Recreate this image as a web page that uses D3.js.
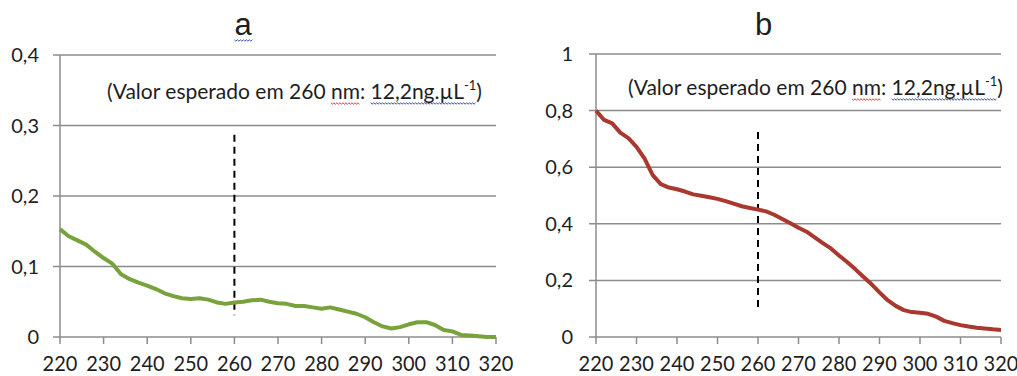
<!DOCTYPE html>
<html>
<head>
<meta charset="utf-8">
<script src="https://cdn.jsdelivr.net/npm/d3@7"></script>
<style>
  body { margin: 0; background: #fff; }
  svg text { font-family: Lato, "Open Sans", sans-serif; fill: #1e1e1e; }
</style>
</head>
<body>
<div id="chart"></div>
<script>
// wavelength grid (nm) shared by both panels
const wavelengths = d3.range(220, 321, 2);

// panel a: absorbance
const absA = [0.153, 0.143, 0.137, 0.131, 0.121, 0.112, 0.104, 0.089, 0.082, 0.077,
    0.073, 0.068, 0.062, 0.058, 0.055, 0.054, 0.055, 0.053, 0.049, 0.047,
    0.049, 0.050, 0.052, 0.053, 0.050, 0.048, 0.047, 0.044, 0.044, 0.042,
    0.040, 0.042, 0.039, 0.036, 0.033, 0.028, 0.021, 0.015, 0.012, 0.014,
    0.018, 0.021, 0.021, 0.017, 0.010, 0.008, 0.003, 0.002, 0.001, 0.000, 0.000];

// panel b: absorbance
const absB = [0.800, 0.767, 0.755, 0.722, 0.703, 0.672, 0.630, 0.572, 0.540, 0.528,
    0.522, 0.514, 0.504, 0.499, 0.494, 0.488, 0.480, 0.471, 0.462, 0.456,
    0.450, 0.444, 0.432, 0.417, 0.402, 0.386, 0.372, 0.352, 0.332, 0.313,
    0.288, 0.265, 0.240, 0.213, 0.187, 0.158, 0.130, 0.110, 0.095, 0.088,
    0.086, 0.082, 0.072, 0.057, 0.049, 0.042, 0.037, 0.033, 0.030, 0.027, 0.025];

const xTicks = d3.range(220, 321, 10);
const yTicksA = [0, 0.1, 0.2, 0.3, 0.4];
const yTicksB = [0, 0.2, 0.4, 0.6, 0.8, 1];
const titles = ["a", "b"];
const note = ["(Valor esperado em 260 ", "nm", ": ", "12,2ng.µL", "-1", ")"];
// dashed marker at 260 nm, [from, to] in absorbance
const markA = [0.287, 0.031];
const markB = [0.724, 0.102];

const W = 1017, H = 376;
const svg = d3.select("#chart").append("svg").attr("width", W).attr("height", H);

const fmt = v => (v === 0 || v === 1) ? String(v) : d3.format(".1f")(v).replace(".", ",");

const panels = [
    { left: 60, right: 496, top: 55, bottom: 337, yMax: 0.4, yTicks: yTicksA, vals: absA,
      color: "#78a23b", title: titles[0], mark: markA, noteX: 107, noteY: 99, labGap: 21 },
    { left: 596, right: 1001, top: 54, bottom: 337, yMax: 1, yTicks: yTicksB, vals: absB,
      color: "#a9382f", title: titles[1], mark: markB, noteX: 628, noteY: 95, labGap: 23 }
];

const wavy = (g, x0, x1, y, color) => {
    const pts = [];
    for (let x = x0, i = 0; x <= x1; x += 1.5, i++) pts.push([x, y + (i % 2 ? 1.2 : -0.2)]);
    g.append("path").attr("d", d3.line()(pts)).attr("fill", "none")
        .attr("stroke", color).attr("stroke-width", 1);
};

panels.forEach(p => {
    const x = d3.scaleLinear().domain([220, 320]).range([p.left, p.right]);
    const y = d3.scaleLinear().domain([0, p.yMax]).range([p.bottom, p.top]);
    const g = svg.append("g");

    // gridlines with short outer ticks
    g.selectAll(".grid").data(p.yTicks).join("line")
        .attr("x1", p.left - 7).attr("x2", p.right)
        .attr("y1", d => y(d)).attr("y2", d => y(d))
        .attr("stroke", "#8c8c8c").attr("stroke-width", 1.5);

    g.append("line").attr("x1", p.left).attr("x2", p.left)
        .attr("y1", p.top).attr("y2", p.bottom)
        .attr("stroke", "#8c8c8c").attr("stroke-width", 1.5);

    g.selectAll(".xt").data(xTicks).join("line")
        .attr("x1", d => x(d)).attr("x2", d => x(d))
        .attr("y1", p.bottom).attr("y2", p.bottom + 7)
        .attr("stroke", "#8c8c8c").attr("stroke-width", 1.5);

    g.selectAll(".xl").data(xTicks).join("text")
        .attr("transform", d => `translate(${x(d)},371) scale(1,1.08)`)
        .attr("text-anchor", "middle").attr("font-size", 20)
        .text(d => d);

    g.selectAll(".yl").data(p.yTicks).join("text")
        .attr("x", p.left - p.labGap).attr("y", d => y(d) + 7)
        .attr("text-anchor", "end").attr("font-size", 20)
        .text(fmt);

    // dashed 260 nm marker
    g.append("line")
        .attr("x1", x(260)).attr("x2", x(260))
        .attr("y1", y(p.mark[0])).attr("y2", y(p.mark[1]))
        .attr("stroke", "#000").attr("stroke-width", 2).attr("stroke-dasharray", "7,5");

    g.append("path")
        .datum(wavelengths.map((w, i) => [w, p.vals[i]]))
        .attr("fill", "none").attr("stroke", p.color).attr("stroke-width", 4)
        .attr("stroke-linejoin", "round")
        .attr("d", d3.line().x(d => x(d[0])).y(d => y(d[1])));

    // title with spell-check squiggle
    const t = g.append("text").attr("x", (p.left + p.right) / 2 - 35).attr("y", 35)
        .attr("text-anchor", "middle").attr("font-size", 31)
        .style("font-family", "'Liberation Sans', Arial, sans-serif").text(p.title);
    if (p.title === "a") {
        const b = t.node().getBBox();
        wavy(g, b.x, b.x + b.width, 40, "#3f51b5");
    }

    // annotation
    const n = g.append("text").attr("x", p.noteX).attr("y", p.noteY).attr("font-size", 21);
    const spans = note.map((s, i) => {
        const ts = n.append("tspan").text(s);
        if (i === 4) ts.attr("font-size", 13).attr("dy", -9);
        if (i === 5) ts.attr("dy", 9);
        return ts;
    });
    const b1 = spans[1].node().getBBox(), b3 = spans[3].node().getBBox();
    wavy(g, b1.x, b1.x + b1.width, p.noteY + 4, "#e53935");
    wavy(g, b3.x, b3.x + b3.width + 12, p.noteY + 4, "#3949ab");
});
</script>
</body>
</html>
